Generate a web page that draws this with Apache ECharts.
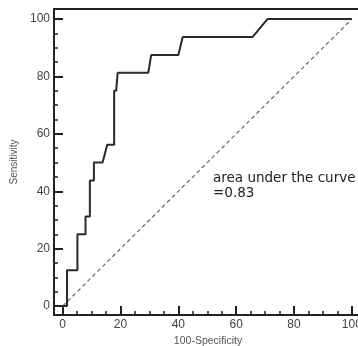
<!DOCTYPE html>
<html>
<head>
<meta charset="utf-8">
<script src="https://cdn.jsdelivr.net/npm/echarts@6/dist/echarts.min.js"></script>
<style>
  html, body { margin: 0; padding: 0; background: #fff; }
  #chart { width: 358px; height: 346px; }
</style>
</head>
<body>
<div id="chart"></div>
<script>
// ROC curve (100-specificity vs sensitivity)
const rocX = [0, 1.5, 1.5, 5.1, 5.1, 7.9, 7.9, 9.4, 9.4, 10.8, 10.8, 13.8, 15.4, 17.8, 17.8, 18.5, 19.0, 29.6, 30.6, 40.0, 41.5, 65.7, 70.8, 100];
const rocY = [0, 0, 12.5, 12.5, 25, 25, 31.25, 31.25, 43.75, 43.75, 50, 50, 56.25, 56.25, 75, 75, 81.25, 81.25, 87.5, 87.5, 93.75, 93.75, 100, 100];
const refX = [0, 100];
const refY = [0, 100];
const majorTicks = [0, 20, 40, 60, 80, 100];
const minorTicks = [5, 10, 15, 25, 30, 35, 45, 50, 55, 65, 70, 75, 85, 90, 95];
const xTitle = '100-Specificity';
const yTitle = 'Sensitivity';
const aucLines = ['area under the curve', '=0.83'];

const pairs = (xs, ys) => xs.map((x, i) => [x, ys[i]]);

const font = 'Liberation Sans, Arial, sans-serif';
const labelStyle = { color: '#444', fontSize: 12, fontFamily: font };

// main axis: frame range, major ticks + labels
const majorAxis = (extra) => Object.assign({
  type: 'value',
  axisLine: { show: false, onZero: false },
  axisTick: { show: true, inside: true, length: 9, customValues: majorTicks, lineStyle: { color: '#222', width: 2 } },
  axisLabel: Object.assign({ customValues: majorTicks }, labelStyle),
  splitLine: { show: false }
}, extra);

// overlay axis with only the small ticks
const minorAxis = (extra) => Object.assign({
  type: 'value',
  axisLine: { show: false, onZero: false },
  axisTick: { show: true, inside: true, length: 4, customValues: minorTicks, lineStyle: { color: '#222', width: 1.5 } },
  axisLabel: { show: false },
  splitLine: { show: false }
}, extra);

const chart = echarts.init(document.getElementById('chart'));
chart.setOption({
  animation: false,
  backgroundColor: '#fff',
  grid: { left: 54, top: 9, right: -4, bottom: 31, show: true, borderColor: '#222', borderWidth: 2, outerBoundsMode: 'none' },
  xAxis: [
    majorAxis({
      min: -3, max: 103.5, position: 'bottom',
      axisLabel: Object.assign({ customValues: majorTicks, margin: 4 }, labelStyle),
      name: xTitle, nameLocation: 'middle', nameGap: 20,
      nameTextStyle: { color: '#555', fontSize: 10.5, fontFamily: font }
    }),
    minorAxis({ min: -3, max: 103.5, position: 'bottom' })
  ],
  yAxis: [
    majorAxis({
      min: -3.1, max: 103.5, position: 'left',
      axisLabel: Object.assign({ customValues: majorTicks, margin: 4 }, labelStyle),
      name: yTitle, nameLocation: 'middle', nameGap: 30,
      nameTextStyle: { color: '#555', fontSize: 10, fontFamily: font }
    }),
    minorAxis({ min: -3.1, max: 103.5, position: 'left' })
  ],
  graphic: [{
    type: 'text', left: 213, top: 171,
    style: {
      text: aucLines.join('\n'),
      fill: '#222', font: '13.5px "DejaVu Sans", sans-serif', lineHeight: 15
    }
  }],
  series: [
    {
      type: 'line', xAxisIndex: 0, yAxisIndex: 0, data: pairs(refX, refY),
      symbol: 'none', silent: true,
      lineStyle: { color: '#666', width: 1.2, type: [4, 3] }
    },
    {
      type: 'line', xAxisIndex: 0, yAxisIndex: 0, data: pairs(rocX, rocY),
      symbol: 'none', silent: true,
      lineStyle: { color: '#2a2a2a', width: 2 }
    }
  ]
});
</script>
</body>
</html>
